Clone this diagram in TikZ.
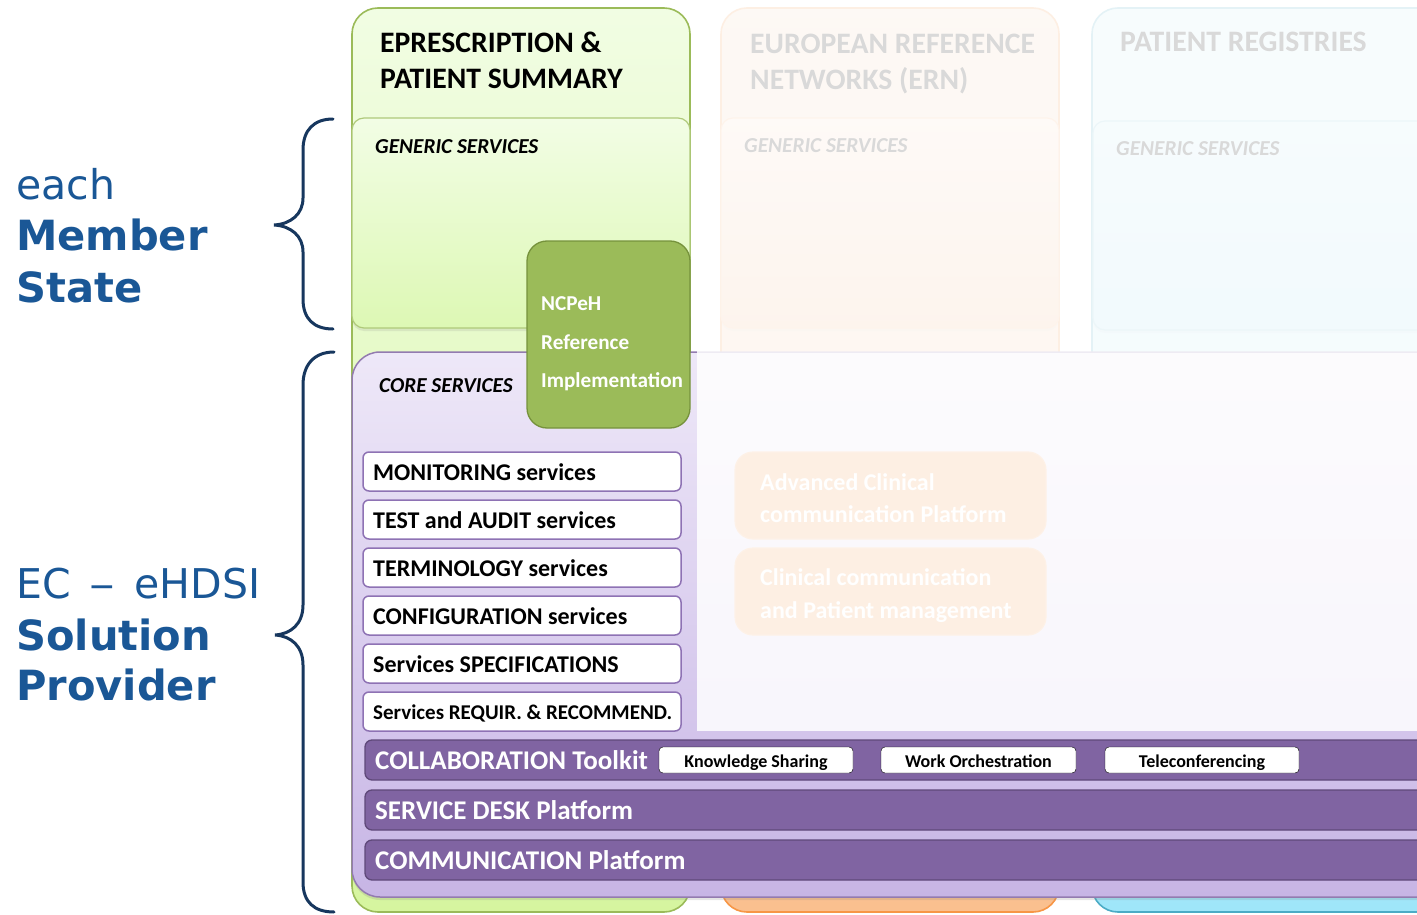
\documentclass[tikz,border=0pt]{standalone}
\usepackage{fontspec}
\setmainfont{Carlito}
\newfontfamily\verdfont{DejaVu Sans}
\usetikzlibrary{shadows}
\definecolor{grnB}{HTML}{9BBB59}
\definecolor{grnTop}{HTML}{F1FDE3}
\definecolor{grnBot}{HTML}{D6F59F}
\definecolor{genGTop}{HTML}{F2FDE5}
\definecolor{genGBot}{HTML}{DDF8B4}
\definecolor{ncpF}{HTML}{9BBB59}
\definecolor{ncpB}{HTML}{76923C}
\definecolor{orB}{HTML}{F79646}
\definecolor{orTop}{HTML}{F8D7BC}
\definecolor{orBot}{HTML}{FAC08F}
\definecolor{genOTop}{HTML}{FAE0CC}
\definecolor{genOBot}{HTML}{F5B98A}
\definecolor{blB}{HTML}{4BACC6}
\definecolor{blTop}{HTML}{D0EEF8}
\definecolor{blBot}{HTML}{9FE6F9}
\definecolor{genBTop}{HTML}{C8ECF8}
\definecolor{genBBot}{HTML}{A8DEF2}
\definecolor{puB}{HTML}{8064A2}
\definecolor{puTop}{HTML}{EEE8F8}
\definecolor{puBot}{HTML}{C7B5E5}
\definecolor{barF}{HTML}{8064A2}
\definecolor{barB}{HTML}{5F497A}
\definecolor{svcB}{HTML}{8E72B4}
\definecolor{navy}{HTML}{17375E}
\definecolor{lblue}{HTML}{1A5796}
\begin{document}
\begin{tikzpicture}[x=1pt,y=-1pt,
  colbox/.style={line width=1.6pt, rounded corners=26pt},
  genbox/.style={line width=1.2pt, rounded corners=12pt,
     drop shadow={shadow xshift=0pt, shadow yshift=-3pt, opacity=0.15}},
  hdr/.style={anchor=base west, inner sep=0pt, font=\bfseries\fontsize{29.7}{34}\selectfont},
  gen/.style={anchor=base west, inner sep=0pt, font=\bfseries\itshape\fontsize{21.3}{25}\selectfont},
  ncpt/.style={anchor=base west, inner sep=0pt, text=white, font=\bfseries\fontsize{21.2}{25}\selectfont},
  svcbox/.style={fill=white, draw=svcB, line width=1.5pt, rounded corners=6pt},
  svct/.style={anchor=base west, inner sep=0pt, font=\bfseries\fontsize{24}{28}\selectfont},
  advbox/.style={fill=orB, draw=orB!85!white, line width=1.2pt, rounded corners=18pt},
  advt/.style={anchor=base west, inner sep=0pt, text=white, font=\bfseries\fontsize{24}{28}\selectfont},
  barbox/.style={fill=barF, draw=barB, line width=1.3pt, rounded corners=7pt},
  bart/.style={anchor=base west, inner sep=0pt, text=white, font=\bfseries\fontsize{27}{31}\selectfont},
  subbox/.style={fill=white, rounded corners=4pt},
  subt/.style={anchor=base, inner sep=0pt, font=\bfseries\fontsize{18}{22}\selectfont},
  brace/.style={draw=navy, line width=3pt, line cap=round},
  lab/.style={anchor=base west, inner sep=0pt, text=lblue, font=\verdfont\fontsize{41}{49}\selectfont},
  labb/.style={lab, font=\verdfont\bfseries\fontsize{41.6}{49}\selectfont}
]
\useasboundingbox (0,0) rectangle (1417,915);
\clip (0,0) rectangle (1417,915);
\fill[white] (0,0) rectangle (1417,915);

% columns
\draw[colbox, draw=grnB, top color=grnTop, bottom color=grnBot] (352,8) rectangle (690,912);
\draw[colbox, draw=orB, top color=orTop, bottom color=orBot] (721,8) rectangle (1059,912);
\draw[colbox, draw=blB, top color=blTop, bottom color=blBot] (1092,8) rectangle (1470,912);

% generic services boxes
\draw[genbox, draw=grnB!80!white, top color=genGTop, bottom color=genGBot] (352,118) rectangle (690,328);
\draw[genbox, draw=orB!70!white, top color=genOTop, bottom color=genOBot] (721,118) rectangle (1059,328);
\draw[genbox, draw=blB!70!white, top color=genBTop, bottom color=genBBot] (1093,121) rectangle (1470,330);

\node[hdr] (tA1) at (380,53) {EPRESCRIPTION \&};
\node[hdr] (tA2) at (380,89) {PATIENT SUMMARY};
\node[gen] (gA) at (375,154) {GENERIC SERVICES};
\node[hdr] (tB1) at (750,54) {EUROPEAN REFERENCE};
\node[hdr] (tB2) at (750,90) {NETWORKS (ERN)};
\node[gen] (gB) at (744,153) {GENERIC SERVICES};
\node[hdr] (tC1) at (1120,52) {PATIENT REGISTRIES};
\node[gen] (gC) at (1116,156) {GENERIC SERVICES};

% core area
\draw[draw=puB!85!white, line width=1.5pt, rounded corners=28pt, top color=puTop, bottom color=puBot,
      drop shadow={shadow xshift=0pt, shadow yshift=-3pt, opacity=0.2}] (352,352) rectangle (1445,897);
\node[gen] (cs) at (379,392) {CORE SERVICES};

% advanced (faded) boxes
\draw[advbox] (735,452) rectangle (1046,539);
\draw[advbox] (735,548) rectangle (1046,635);
\node[advt] (a1) at (760,490) {Advanced Clinical};
\node[advt] (a2) at (760,522) {communication Platform};
\node[advt] (a3) at (760,585) {Clinical communication};
\node[advt] (a4) at (760,618) {and Patient management};

% fading veil
\fill[white, opacity=0.85] (697,0) rectangle (1417,731);

% core services list
\draw[svcbox] (363,452) rectangle (681,491);
\draw[svcbox] (363,500) rectangle (681,539);
\draw[svcbox] (363,548) rectangle (681,587);
\draw[svcbox] (363,596) rectangle (681,635);
\draw[svcbox] (363,644) rectangle (681,683);
\draw[svcbox] (363,692) rectangle (681,731);
\node[svct] (s1) at (373,480) {MONITORING services};
\node[svct] (s2) at (373,528) {TEST and AUDIT services};
\node[svct] (s3) at (373,576) {TERMINOLOGY services};
\node[svct] (s4) at (373,624) {CONFIGURATION services};
\node[svct] (s5) at (373,672) {Services SPECIFICATIONS};
\node[svct, font=\bfseries\fontsize{21}{25}\selectfont] (s6) at (373,719) {Services REQUIR. \& RECOMMEND.};

% NCPeH
\draw[fill=ncpF, draw=ncpB, line width=1.3pt, rounded corners=20pt] (527,241) rectangle (690,428);
\node[ncpt] (n1) at (541,310) {NCPeH};
\node[ncpt] (n2) at (541,349) {Reference};
\node[ncpt] (n3) at (541,387) {Implementation};

% bars
\draw[barbox] (365,740) rectangle (1440,780);
\draw[barbox] (365,790) rectangle (1440,830);
\draw[barbox] (365,840) rectangle (1440,880);
\node[bart] (b1) at (375,769) {COLLABORATION Toolkit};
\node[bart] (b2) at (375,819) {SERVICE DESK Platform};
\node[bart] (b3) at (375,869) {COMMUNICATION Platform};
\draw[subbox] (659,747) rectangle (853,773);
\draw[subbox] (881,747) rectangle (1076,773);
\draw[subbox] (1105,747) rectangle (1299,773);
\node[subt] (k1) at (756,767) {Knowledge Sharing};
\node[subt] (k2) at (978.5,767) {Work Orchestration};
\node[subt] (k3) at (1202,767) {Teleconferencing};

% braces
\draw[brace] (333,119) .. controls (314,119) and (303,130) .. (303,150) -- (303,198)
   .. controls (303,214) and (291,224) .. (274,225) .. controls (291,226) and (303,236) .. (303,252)
   -- (303,299) .. controls (303,319) and (314,329) .. (333,329);
\draw[brace] (334,352) .. controls (314,352) and (303,365) .. (303,385) -- (303,605)
   .. controls (303,624) and (291,634) .. (275,635) .. controls (291,636) and (303,646) .. (303,665)
   -- (303,882) .. controls (303,902) and (314,912) .. (334,912);

% labels
\node[lab] (l1) at (16,200) {each};
\node[labb] (l2) at (16,250) {Member};
\node[labb] (l3) at (16,302) {State};
\node[lab] (l4) at (16,598) {EC\hspace{6pt} \scalebox{1.25}[1]{–}\hspace{6pt} eHDSI};
\node[labb] (l5) at (16,650) {Solution};
\node[labb] (l6) at (16,700) {Provider};
\end{tikzpicture}
\end{document}
